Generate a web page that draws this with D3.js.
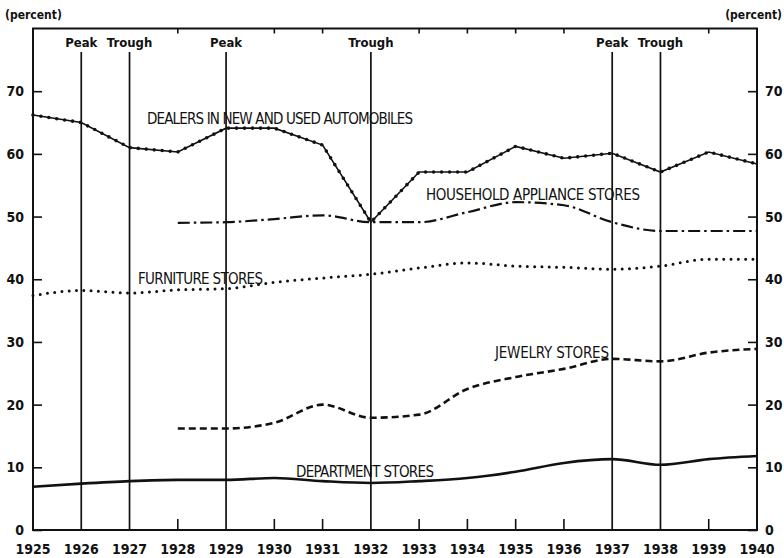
<!DOCTYPE html>
<html><head><meta charset="utf-8">
<script src="https://cdn.jsdelivr.net/npm/d3@7"></script>
<style>
html,body{margin:0;padding:0;background:#fff;}
svg{display:block;}
text{font-family:"DejaVu Sans Condensed","Liberation Sans Narrow",sans-serif;fill:#111;}
</style></head>
<body>
<script>
const years = d3.range(1925, 1941);
const yearsLate = d3.range(1928, 1941);
const autos = [66.2, 65.0, 61.0, 60.3, 64.1, 64.1, 61.4, 49.1, 57.1, 57.1, 61.2, 59.3, 60.1, 57.1, 60.3, 58.4];
const appliance = [49.0, 49.1, 49.6, 50.2, 49.1, 49.1, 50.7, 52.3, 51.8, 49.1, 47.7, 47.7, 47.7];
const furniture = [37.4, 38.2, 37.8, 38.3, 38.5, 39.5, 40.2, 40.8, 41.8, 42.6, 42.1, 41.9, 41.6, 42.1, 43.2, 43.2];
const jewelry = [16.2, 16.2, 17.1, 20.0, 17.9, 18.4, 22.5, 24.4, 25.7, 27.3, 26.9, 28.3, 28.9];
const department = [6.9, 7.4, 7.8, 8.0, 8.0, 8.3, 7.8, 7.5, 7.8, 8.3, 9.3, 10.7, 11.3, 10.4, 11.3, 11.8];
const cycleYears = [1926, 1927, 1929, 1932, 1937, 1938];
const cycleLabels = ["Peak", "Trough", "Peak", "Trough", "Peak", "Trough"];
const yTicks = [0, 10, 20, 30, 40, 50, 60, 70];
const seriesLabels = ["DEALERS IN NEW AND USED AUTOMOBILES", "HOUSEHOLD APPLIANCE STORES", "FURNITURE STORES", "JEWELRY STORES", "DEPARTMENT STORES"];

const W = 784, H = 558;
const svg = d3.select("body").append("svg").attr("width", W).attr("height", H);
const x = d3.scaleLinear().domain([1925, 1940]).range([33, 757]);
const y = d3.scaleLinear().domain([0, 80]).range([530, 28.5]);
const ink = "#111";

// frame
svg.append("rect").attr("x", x(1925)).attr("y", y(80)).attr("width", x(1940) - x(1925)).attr("height", y(0) - y(80))
  .attr("fill", "none").attr("stroke", ink).attr("stroke-width", 2);

// minor year ticks (top and bottom) for years without cycle lines
const minorYears = years.filter(yr => yr !== 1925 && yr !== 1940 && !cycleYears.includes(yr));
svg.append("g").selectAll("line.bt").data(minorYears).join("line")
  .attr("x1", d => x(d)).attr("x2", d => x(d)).attr("y1", y(0)).attr("y2", y(0) - 11)
  .attr("stroke", ink).attr("stroke-width", 1.6);
svg.append("g").selectAll("line.tt").data(minorYears).join("line")
  .attr("x1", d => x(d)).attr("x2", d => x(d)).attr("y1", y(80)).attr("y2", y(80) + 5)
  .attr("stroke", ink).attr("stroke-width", 1.6);

// y axes via d3 axes (inner ticks)
const leftAxis = d3.axisRight(y).tickValues(yTicks).tickSize(9).tickFormat("");
const gl = svg.append("g").attr("transform", `translate(${x(1925)},0)`).call(leftAxis);
gl.select(".domain").remove();
gl.selectAll("line").attr("stroke", ink).attr("stroke-width", 1.6);
const rightAxis = d3.axisLeft(y).tickValues(yTicks).tickSize(9).tickFormat("");
const gr = svg.append("g").attr("transform", `translate(${x(1940)},0)`).call(rightAxis);
gr.select(".domain").remove();
gr.selectAll("line").attr("stroke", ink).attr("stroke-width", 1.6);

// y tick labels
svg.append("g").selectAll("text").data(yTicks).join("text")
  .attr("x", 24).attr("y", d => y(d) + 5).attr("text-anchor", "end")
  .attr("font-size", 14).attr("font-weight", "bold").text(d => d);
svg.append("g").selectAll("text").data(yTicks).join("text")
  .attr("x", 765).attr("y", d => y(d) + 5).attr("text-anchor", "start")
  .attr("font-size", 14).attr("font-weight", "bold").text(d => d);

// x labels
svg.append("g").selectAll("text").data(years).join("text")
  .attr("x", d => x(d)).attr("y", 554).attr("text-anchor", "middle")
  .attr("font-size", 14).attr("font-weight", "bold").text(d => d);

// (percent)
svg.append("text").attr("x", 5).attr("y", 19).attr("font-size", 12).attr("font-weight", "bold").text("(percent)");
svg.append("text").attr("x", 782).attr("y", 19).attr("text-anchor", "end").attr("font-size", 12).attr("font-weight", "bold").text("(percent)");

// cycle lines
svg.append("g").selectAll("line").data(cycleYears).join("line")
  .attr("x1", d => x(d)).attr("x2", d => x(d)).attr("y1", 52).attr("y2", y(0))
  .attr("stroke", ink).attr("stroke-width", 1.7);
svg.append("g").selectAll("text").data(cycleYears).join("text")
  .attr("x", d => x(d)).attr("y", 47).attr("text-anchor", "middle")
  .attr("font-size", 13).attr("font-weight", "bold").text((d, i) => cycleLabels[i]);

// lines
const lineLin = d3.line().x(d => x(d[0])).y(d => y(d[1]));
const lineSmooth = d3.line().x(d => x(d[0])).y(d => y(d[1])).curve(d3.curveMonotoneX);
const zip = (xs, vs) => xs.map((v, i) => [v, vs[i]]);

// department
svg.append("path").attr("d", lineSmooth(zip(years, department))).attr("fill", "none")
  .attr("stroke", ink).attr("stroke-width", 2.6);
// jewelry
svg.append("path").attr("d", lineSmooth(zip(yearsLate, jewelry))).attr("fill", "none")
  .attr("stroke", ink).attr("stroke-width", 2.6).attr("stroke-dasharray", "7 4");
// furniture dotted
svg.append("path").attr("d", lineSmooth(zip(years, furniture))).attr("fill", "none")
  .attr("stroke", ink).attr("stroke-width", 3).attr("stroke-linecap", "round").attr("stroke-dasharray", "0 7.3");
// appliance dash-dot
svg.append("path").attr("d", lineSmooth(zip(yearsLate, appliance))).attr("fill", "none")
  .attr("stroke", ink).attr("stroke-width", 2.2).attr("stroke-dasharray", "12 4 2.5 4");
// autos: line with dots
const autoD = lineLin(zip(years, autos));
svg.append("path").attr("d", autoD).attr("fill", "none").attr("stroke", ink).attr("stroke-width", 1.6);
svg.append("path").attr("d", autoD).attr("fill", "none").attr("stroke", ink).attr("stroke-width", 3.6)
  .attr("stroke-linecap", "round").attr("stroke-dasharray", "0 8");

// series labels
const labelPos = [[147, 124, 266], [426, 200, 214], [138, 284, 125], [495, 358, 114], [296, 477, 138]];
svg.append("g").selectAll("text").data(seriesLabels).join("text")
  .attr("x", (d, i) => labelPos[i][0]).attr("y", (d, i) => labelPos[i][1])
  .attr("textLength", (d, i) => labelPos[i][2]).attr("lengthAdjust", "spacing")
  .attr("font-size", 15).text(d => d);
</script>
</body></html>
